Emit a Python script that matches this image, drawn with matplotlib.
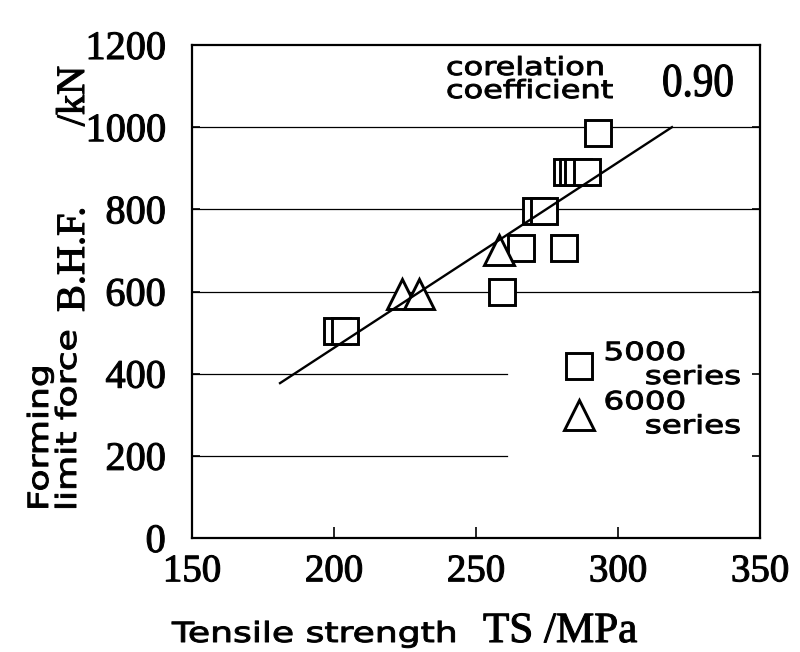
import matplotlib
matplotlib.use("Agg")
import matplotlib.pyplot as plt
import numpy as np
from matplotlib import patheffects
from matplotlib.patheffects import AbstractPathEffect
from matplotlib.transforms import Affine2D

# forming limit force (B.H.F.) vs tensile strength
ts_5000 = [201, 204, 259, 266, 281, 271, 274, 282, 284, 286, 289, 293]
bhf_5000 = [505, 505, 600, 705, 705, 795, 795, 890, 890, 890, 890, 985]
ts_6000 = [224, 230, 258]
bhf_6000 = [595, 595, 700]
fit_ts = [181, 319]          # ends of the regression line
fit_bhf = [377, 1000]
corr = "0.90"

x_ticks = [150, 200, 250, 300, 350]
y_ticks = [0, 200, 400, 600, 800, 1000, 1200]
grid_full = [600, 800, 1000]
grid_cut = [200, 400]        # these stop short of the legend

SANS = "DejaVu Sans"
SERIF = "Liberation Serif"
W, H = 800, 652


class Wide(AbstractPathEffect):
    """Stretch glyphs along the baseline and thicken them a bit, like the scan."""

    def __init__(self, sx, stroke=0.0):
        super().__init__()
        self.sx = sx
        self.stroke = stroke

    def draw_path(self, renderer, gc, tpath, affine, rgbFace=None):
        gc0 = renderer.new_gc()
        gc0.copy_properties(gc)
        gc0.set_linewidth(self.stroke)
        gc0.set_foreground(rgbFace if rgbFace is not None else "black")
        renderer.draw_path(gc0, tpath, Affine2D().scale(self.sx, 1) + affine, rgbFace)
        gc0.restore()


INK = [Wide(1.0, stroke=0.8)]   # heavy serif


def fx(px):
    return px / W


def fy(py):
    return 1 - py / H


fig = plt.figure(figsize=(W / 100, H / 100), dpi=100)
ax = fig.add_axes([fx(192), fy(538), (760 - 192) / W, (538 - 45) / H])

for y in grid_full:
    ax.axhline(y, color="black", lw=0.9, zorder=1)
for y in grid_cut:
    ax.axhline(y, xmax=(507 - 192) / 568, color="black", lw=0.9, zorder=1)

order = np.argsort(ts_5000, kind="stable")
sq, = ax.plot(np.array(ts_5000)[order], np.array(bhf_5000)[order], ls="none", marker="s",
              ms=19, mfc="white", mec="black", mew=2.1, zorder=2, label="5000\n    series")
tri, = ax.plot(ts_6000, bhf_6000, ls="none", marker="^", ms=22, mfc="white", mec="black",
               mew=2.1, zorder=2, label="6000\n    series")
ax.plot(fit_ts, fit_bhf, color="black", lw=1.7, zorder=3)

ax.set_xlim(150, 350)
ax.set_ylim(0, 1200)
ax.set_xticks(x_ticks)
ax.set_yticks(y_ticks)
ax.set_xticklabels([str(v) for v in x_ticks], family=SERIF, fontsize=28)
ax.set_yticklabels([str(v) for v in y_ticks], family=SERIF, fontsize=29)
for t in ax.get_xticklabels() + ax.get_yticklabels():
    t.set_path_effects(INK)
ax.tick_params(axis="y", direction="in", length=6, width=1.2, pad=19, right=True)
ax.tick_params(axis="x", direction="in", length=8, width=1.2, pad=11)
for s in ax.spines.values():
    s.set_linewidth(1.6)

leg = ax.legend(handles=[sq, tri], loc="upper left",
                bbox_to_anchor=((566 - 192) / 568, 1 - (341 - 45) / 493),
                frameon=False, borderpad=0, borderaxespad=0, handlelength=1.0,
                handletextpad=0.5, labelspacing=0.05,
                prop={"family": SANS, "size": 18})
for t in leg.get_texts():
    t.set_linespacing(1.0)
    t.set_path_effects([Wide(1.3, stroke=0.7)])

ax.text((446 - 192) / 568, 1 - (56 - 45) / 493, "corelation\ncoefficient", transform=ax.transAxes,
        family=SANS, fontsize=18, ha="left", va="top", linespacing=0.95,
        path_effects=[Wide(1.28, stroke=0.7)])
ax.text((662 - 192) / 568, 1 - (96 - 45) / 493, corr, transform=ax.transAxes,
        family=SERIF, fontsize=34, ha="left", va="baseline",
        path_effects=[Wide(0.87, stroke=0.8)])

# axis titles: sans words plus serif symbol/unit, as in the original
fig.text(fx(172), fy(642), "Tensile strength", family=SANS, fontsize=20,
         ha="left", va="baseline", path_effects=[Wide(1.3, stroke=0.7)])
fig.text(fx(483), fy(642), "TS /MPa", family=SERIF, fontsize=31, ha="left", va="baseline",
         path_effects=INK)
fig.text(fx(26), fy(511), "Forming\nlimit force", family=SANS, fontsize=20,
         rotation=90, rotation_mode="anchor", ha="left", va="top", linespacing=1.0,
         path_effects=[Wide(1.3, stroke=0.7)])
fig.text(fx(56), fy(312), "B.H.F.", family=SERIF, fontsize=29, rotation=90,
         rotation_mode="anchor", ha="left", va="top", path_effects=INK)
fig.text(fx(56), fy(66), "/kN", family=SERIF, fontsize=29, rotation=90,
         rotation_mode="anchor", ha="right", va="top", path_effects=INK)

fig.savefig("out.png", dpi=100, facecolor="white")
